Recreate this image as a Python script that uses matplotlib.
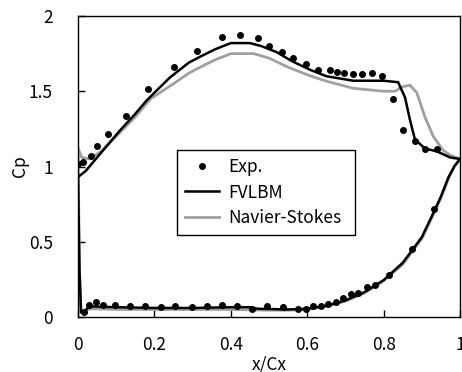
import matplotlib
matplotlib.use("Agg")
import matplotlib.pyplot as plt

plt.rcParams['font.family'] = ['Noto Sans CJK JP', 'DejaVu Sans']

# Experimental data (upper surface then lower surface)
exp_up_x = [0.0, 0.013, 0.034, 0.05, 0.079, 0.126, 0.183, 0.251, 0.312, 0.377, 0.424, 0.471,
            0.5, 0.534, 0.563, 0.597, 0.628, 0.66, 0.678, 0.696, 0.72, 0.743, 0.77, 0.796,
            0.825, 0.851, 0.882, 0.908, 0.94]
exp_up_y = [1.017, 1.03, 1.07, 1.136, 1.216, 1.336, 1.515, 1.661, 1.767, 1.86, 1.874, 1.854,
            1.80, 1.761, 1.721, 1.681, 1.641, 1.641, 1.628, 1.621, 1.615, 1.615, 1.621, 1.601,
            1.449, 1.243, 1.169, 1.116, 1.116]
exp_lo_x = [0.016, 0.029, 0.047, 0.065, 0.097, 0.136, 0.175, 0.217, 0.254, 0.298, 0.338, 0.377,
            0.416, 0.455, 0.495, 0.537, 0.576, 0.597, 0.615, 0.636, 0.654, 0.675, 0.694, 0.715,
            0.733, 0.757, 0.777, 0.814, 0.874, 0.932]
exp_lo_y = [0.033, 0.08, 0.10, 0.08, 0.08, 0.073, 0.073, 0.066, 0.073, 0.066, 0.073, 0.08,
            0.073, 0.053, 0.073, 0.066, 0.053, 0.053, 0.073, 0.073, 0.086, 0.10, 0.126, 0.153,
            0.159, 0.199, 0.213, 0.279, 0.452, 0.718]

# FVLBM
fv_up_x = [0.0, 0.02, 0.04, 0.07, 0.11, 0.15, 0.18, 0.24, 0.29, 0.32, 0.36, 0.40, 0.45, 0.48,
           0.52, 0.56, 0.61, 0.65, 0.72, 0.80, 0.838, 0.856, 0.869, 0.882, 0.908, 0.94, 0.974, 1.0]
fv_up_y = [0.93, 0.97, 1.03, 1.12, 1.24, 1.35, 1.44, 1.59, 1.69, 1.73, 1.78, 1.82, 1.82, 1.80,
           1.76, 1.70, 1.64, 1.60, 1.57, 1.57, 1.56, 1.46, 1.31, 1.18, 1.12, 1.10, 1.06, 1.05]
fv_lo_x = [0.0, 0.004, 0.008, 0.015, 0.025, 0.04, 0.1, 0.2, 0.3, 0.4, 0.45, 0.47, 0.55, 0.6,
           0.65, 0.7, 0.75, 0.8, 0.85, 0.9, 0.93, 0.95, 0.97, 0.985, 1.0]
fv_lo_y = [0.93, 0.3, 0.03, 0.03, 0.06, 0.07, 0.065, 0.06, 0.06, 0.065, 0.065, 0.055, 0.05, 0.055,
           0.075, 0.11, 0.165, 0.245, 0.36, 0.53, 0.69, 0.80, 0.93, 1.0, 1.05]

# Navier-Stokes
ns_up_x = [0.0, 0.01, 0.03, 0.06, 0.10, 0.15, 0.19, 0.25, 0.29, 0.32, 0.36, 0.40, 0.46, 0.50,
           0.55, 0.61, 0.66, 0.72, 0.80, 0.83, 0.85, 0.869, 0.887, 0.908, 0.93, 0.955, 0.974, 1.0]
ns_up_y = [1.12, 1.06, 1.05, 1.10, 1.20, 1.33, 1.45, 1.55, 1.62, 1.66, 1.71, 1.75, 1.75, 1.72,
           1.66, 1.60, 1.56, 1.52, 1.50, 1.50, 1.53, 1.54, 1.49, 1.33, 1.20, 1.11, 1.075, 1.05]
ns_lo_x = [0.0, 0.004, 0.008, 0.015, 0.025, 0.04, 0.1, 0.2, 0.3, 0.4, 0.5, 0.55, 0.6,
           0.65, 0.7, 0.75, 0.8, 0.85, 0.9, 0.93, 0.95, 0.97, 0.985, 1.0]
ns_lo_y = [1.12, 0.3, 0.03, 0.03, 0.05, 0.055, 0.05, 0.05, 0.05, 0.05, 0.045, 0.045, 0.05,
           0.07, 0.105, 0.16, 0.24, 0.35, 0.52, 0.68, 0.79, 0.92, 1.0, 1.05]

fig = plt.figure(figsize=(4.62, 3.72), dpi=100)
ax = fig.add_axes([78/462, 1-317/372, 382/462, 301/372])

gray = '#a0a0a0'
ax.plot(ns_up_x, ns_up_y, color=gray, lw=2.0, label='Navier-Stokes', zorder=2)
ax.plot(ns_lo_x, ns_lo_y, color=gray, lw=2.0, zorder=2)
ax.plot(fv_up_x, fv_up_y, color='black', lw=1.8, label='FVLBM', zorder=3)
ax.plot(fv_lo_x, fv_lo_y, color='black', lw=1.8, zorder=3)
ax.plot(exp_up_x + exp_lo_x, exp_up_y + exp_lo_y, 'o', color='black', ms=4,
        label='Exp.', zorder=4)

ax.set_xlim(0, 1)
ax.set_ylim(0, 2)
ax.set_xticks([0, 0.2, 0.4, 0.6, 0.8, 1])
ax.set_xticklabels(['0', '0.2', '0.4', '0.6', '0.8', '1'])
ax.set_yticks([0, 0.5, 1, 1.5, 2])
ax.set_yticklabels(['0', '0.5', '1', '1.5', '2'])
ax.tick_params(direction='in', length=5, width=1, labelsize=12.5)
ax.tick_params(axis='x', pad=14)
ax.tick_params(axis='y', pad=18)
for s in ax.spines.values():
    s.set_linewidth(1.0)

ax.set_xlabel('x/Cx', fontsize=12.5)
ax.set_ylabel('Cp', fontsize=12.5)
ax.xaxis.set_label_coords(0.5, -0.128)
ax.yaxis.set_label_coords(-0.128, 0.5)

h, l = ax.get_legend_handles_labels()
order = [2, 1, 0]
leg = ax.legend([h[i] for i in order], [l[i] for i in order],
                loc='lower left', bbox_to_anchor=(0.259, 0.272, 0.466, 0.296),
                mode='expand', frameon=True, fancybox=False, fontsize=12.5,
                handlelength=2.0, borderpad=0.45, labelspacing=0.45, borderaxespad=0,
                handletextpad=0.5)
leg.get_frame().set_edgecolor('black')
leg.get_frame().set_linewidth(1.0)
leg.get_frame().set_alpha(1)

fig.savefig('out.png', dpi=100)
